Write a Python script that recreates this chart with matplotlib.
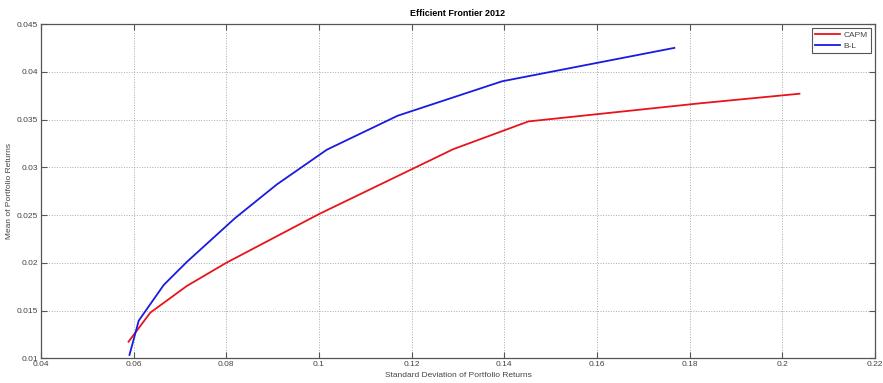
import matplotlib
matplotlib.use("Agg")
import matplotlib.pyplot as plt

# CAPM frontier (std, mean)
capm_std = [0.0589, 0.0636, 0.0715, 0.0800, 0.1000, 0.1290, 0.1452, 0.1823, 0.2037]
capm_mean = [0.01174, 0.01478, 0.01758, 0.0200, 0.0251, 0.0319, 0.0348, 0.0367, 0.0377]

# Black-Litterman frontier
bl_std = [0.0591, 0.0611, 0.0665, 0.0715, 0.0819, 0.0909, 0.1017, 0.1170, 0.1395, 0.1767]
bl_mean = [0.01035, 0.01394, 0.01768, 0.0201, 0.02468, 0.0282, 0.03184, 0.0354, 0.0390, 0.0425]

xticks = [0.04, 0.06, 0.08, 0.1, 0.12, 0.14, 0.16, 0.18, 0.2, 0.22]
xticklabels = ['0.04', '0.06', '0.08', '0.1', '0.12', '0.14', '0.16', '0.18', '0.2', '0.22']
yticks = [0.01, 0.015, 0.02, 0.025, 0.03, 0.035, 0.04, 0.045]
yticklabels = ['0.01', '0.015', '0.02', '0.025', '0.03', '0.035', '0.04', '0.045']

plt.rcParams['font.family'] = ['Liberation Sans', 'DejaVu Sans']

fig = plt.figure(figsize=(8.83, 3.83), dpi=100)
# axes box placed to match the reference frame
ax = fig.add_axes([0.0464, 0.0645, 0.9445, 0.8728])

ax.plot(capm_std, capm_mean, color='#e8141c', linewidth=1.3, label='CAPM')
ax.plot(bl_std, bl_mean, color='#1a1ae0', linewidth=1.3, label='B-L')

ax.set_xlim(0.04, 0.22)
ax.set_ylim(0.01, 0.045)
ax.set_xticks(xticks)
ax.set_xticklabels(xticklabels)
ax.set_yticks(yticks)
ax.set_yticklabels(yticklabels)
ax.grid(True, linestyle=':', color='#aaaaaa', linewidth=0.7)
ax.tick_params(direction='in', length=4, width=0.8, labelsize=6, colors='#555555',
               top=True, right=True, labelcolor='#444444', pad=2)
for s in ax.spines.values():
    s.set_color('#555555')
    s.set_linewidth(0.9)

ax.set_title('Efficient Frontier 2012', fontsize=6.5, fontweight='bold', pad=6)
ax.set_xlabel('Standard Deviation of Portfolio Returns', fontsize=6, color='#444444', labelpad=3)
ax.set_ylabel('Mean of Portfolio Returns', fontsize=6, color='#444444', labelpad=3)

leg = ax.legend(loc='upper right', fontsize=6, fancybox=False, framealpha=1,
                edgecolor='#555555', handlelength=3.0, borderpad=0.4,
                labelspacing=0.3, handletextpad=0.4, borderaxespad=0.5)
leg.get_frame().set_linewidth(0.8)
for t in leg.get_texts():
    t.set_color('#444444')

fig.savefig('out.png', dpi=100)
